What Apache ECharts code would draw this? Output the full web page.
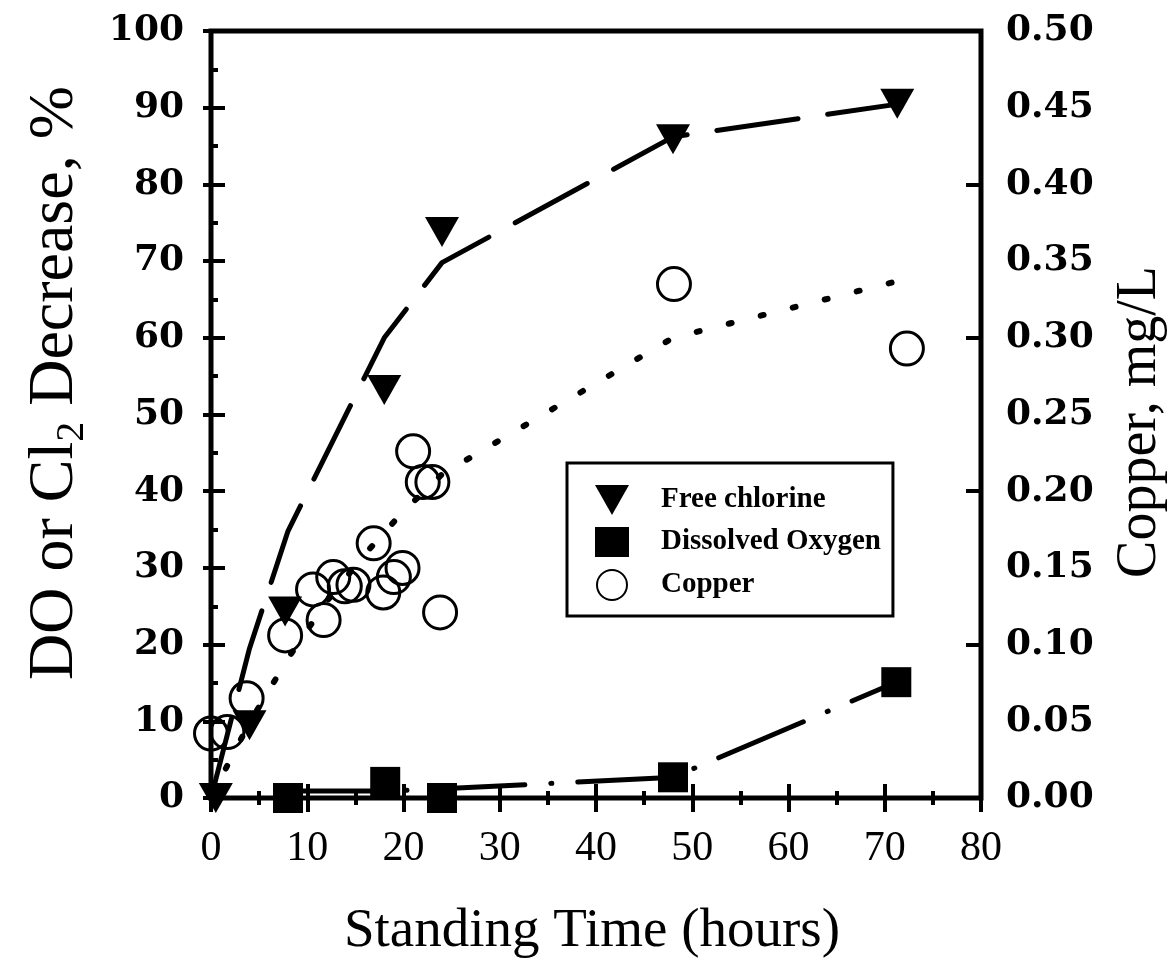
<!DOCTYPE html>
<html>
<head>
<meta charset="utf-8">
<script src="https://cdn.jsdelivr.net/npm/echarts@6/dist/echarts.min.js"></script>
<style>
  html, body { margin: 0; padding: 0; background: #fff; }
  #chart { width: 1176px; height: 966px; }
</style>
</head>
<body>
<div id="chart"></div>
<script>
// Axis ticks
const xTicks = [0, 10, 20, 30, 40, 50, 60, 70, 80];
const yLeftTicks = [0, 10, 20, 30, 40, 50, 60, 70, 80, 90, 100];
const yRightTicks = [0, 0.05, 0.10, 0.15, 0.20, 0.25, 0.30, 0.35, 0.40, 0.45, 0.50];

// Free chlorine decrease (%) and its fitted curve
const clHours = [0.5, 4, 7.7, 18, 24, 48, 71.3];
const freeChlorine = [0, 9.5, 24.3, 53.2, 73.8, 85.9, 90.5];
const clFitHours = [0, 4, 8, 18, 24, 48, 71];
const clFit = [0, 19.5, 34.8, 60.0, 69.8, 86.2, 90.4];

// Dissolved oxygen decrease (%) and its fitted curve
const doHours = [8, 18.1, 24, 48, 71.2];
const dissolvedOxygen = [0, 2.1, 0, 2.7, 15.1];
const doFitHours = [8, 18, 24, 48, 71];
const doFit = [0.9, 0.9, 1.2, 2.7, 15.0];

// Copper (mg/L) and its fitted curve
const cuHours = [0, 1.7, 3.7, 7.7, 10.6, 11.7, 12.7, 13.9, 14.8, 16.9, 17.9, 19.0, 19.9, 21.0, 22.0, 23.0, 23.8, 48.1, 72.3];
const copper = [0.042, 0.043, 0.065, 0.106, 0.136, 0.116, 0.144, 0.138, 0.139, 0.166, 0.134, 0.144, 0.150, 0.226, 0.206, 0.206, 0.121, 0.335, 0.293];
const cuFitHours = [0, 2, 4, 8, 12, 16, 20, 24, 48, 72];
const cuFit = [0, 0.025, 0.049, 0.091, 0.128, 0.159, 0.187, 0.211, 0.300, 0.338];

const zip = (xs, ys) => xs.map((x, i) => [x, ys[i]]);

const BLACK = '#000';
const tickStyle = { color: BLACK, width: 4 };
const TICK_FONT = { color: BLACK, fontFamily: 'DejaVu Serif', fontWeight: 'bold', fontSize: 36 };
const DOWN_TRIANGLE = 'path://M0,0 L34,0 L17,30 Z';

function xAxisDef(position, showLabels) {
  return {
    type: 'value',
    position: position,
    min: xTicks[0],
    max: xTicks[xTicks.length - 1],
    interval: xTicks[1] - xTicks[0],
    axisLine: { show: false },
    splitLine: { show: false },
    axisTick: { show: true, inside: true, length: 14, lineStyle: tickStyle },
    minorTick: { show: true, splitNumber: 2, length: 7, lineStyle: tickStyle },
    minorSplitLine: { show: false },
    axisLabel: {
      show: showLabels,
      margin: 30,
      color: BLACK,
      fontFamily: 'Liberation Serif',
      fontSize: 42
    }
  };
}

const option = {
  animation: false,
  backgroundColor: '#fff',
  grid: {
    left: 211, right: 195, top: 31, bottom: 168,
    show: true, borderColor: BLACK, borderWidth: 5, backgroundColor: 'transparent'
  },
  xAxis: [xAxisDef('bottom', true), xAxisDef('top', false)],
  yAxis: [
    {
      type: 'value',
      position: 'left',
      min: yLeftTicks[0],
      max: yLeftTicks[yLeftTicks.length - 1],
      interval: yLeftTicks[1] - yLeftTicks[0],
      axisLine: { show: false },
      splitLine: { show: false },
      axisTick: { show: true, inside: true, length: 14, lineStyle: tickStyle },
      minorTick: { show: true, splitNumber: 2, length: 7, lineStyle: tickStyle },
      minorSplitLine: { show: false },
      axisLabel: Object.assign({ margin: 27 }, TICK_FONT)
    },
    {
      type: 'value',
      position: 'right',
      min: yRightTicks[0],
      max: yRightTicks[yRightTicks.length - 1],
      interval: yRightTicks[1] - yRightTicks[0],
      axisLine: { show: false },
      splitLine: { show: false },
      axisTick: { show: true, inside: true, length: 8, lineStyle: tickStyle },
      axisLabel: Object.assign({ margin: 25, formatter: v => v.toFixed(2) }, TICK_FONT)
    },
    {
      // long ticks at every 0.1 mg/L on the copper side
      type: 'value',
      position: 'right',
      min: yRightTicks[0],
      max: yRightTicks[yRightTicks.length - 1],
      interval: yRightTicks[2] - yRightTicks[0],
      axisLine: { show: false },
      splitLine: { show: false },
      axisTick: { show: true, inside: true, length: 15, lineStyle: tickStyle },
      axisLabel: { show: false }
    }
  ],
  legend: {
    orient: 'vertical',
    left: 567,
    top: 463,
    padding: [22, 12, 15, 28],
    itemGap: 12,
    itemWidth: 34,
    itemHeight: 30,
    borderColor: BLACK,
    borderWidth: 3,
    backgroundColor: '#fff',
    selectedMode: false,
    textStyle: {
      color: BLACK, fontFamily: 'Liberation Serif', fontWeight: 'bold', fontSize: 29,
      padding: [0, 0, 0, 27]
    },
    data: [
      { name: 'Free chlorine', icon: DOWN_TRIANGLE },
      { name: 'Dissolved Oxygen' },
      { name: 'Copper' }
    ]
  },
  graphic: [
    {
      type: 'text',
      x: 55, y: 383,
      rotation: Math.PI / 2,
      style: {
        text: '{a|DO or Cl}{s|2}{a| Decrease, %}',
        align: 'center', verticalAlign: 'middle',
        textAlign: 'center', textVerticalAlign: 'middle',
        fill: BLACK,
        rich: {
          a: { fontFamily: 'Liberation Serif', fontSize: 64, lineHeight: 74, fill: BLACK },
          s: { fontFamily: 'Liberation Serif', fontSize: 40, lineHeight: 40, verticalAlign: 'bottom', fill: BLACK }
        }
      }
    },
    {
      type: 'text',
      x: 1140, y: 422,
      rotation: Math.PI / 2,
      style: {
        text: 'Copper, mg/L',
        align: 'center', verticalAlign: 'middle',
        textAlign: 'center', textVerticalAlign: 'middle',
        fill: BLACK,
        font: '56px "Liberation Serif"'
      }
    },
    {
      type: 'text',
      x: 592, y: 932,
      style: {
        text: 'Standing Time (hours)',
        align: 'center', verticalAlign: 'middle',
        textAlign: 'center', textVerticalAlign: 'middle',
        fill: BLACK,
        font: '55px "Liberation Serif"'
      }
    }
  ],
  series: [
    {
      name: 'Chlorine fit',
      type: 'line',
      xAxisIndex: 0, yAxisIndex: 0,
      data: zip(clFitHours, clFit),
      symbol: 'none', silent: true, clip: false, z: 2,
      lineStyle: { color: BLACK, width: 5, opacity: 1, type: [82, 30], cap: 'round', join: 'round' }
    },
    {
      name: 'Oxygen fit',
      type: 'line',
      xAxisIndex: 0, yAxisIndex: 0,
      data: zip(doFitHours, doFit),
      symbol: 'none', silent: true, clip: false, z: 2,
      lineStyle: { color: BLACK, width: 5, opacity: 1, type: [92, 26, 1, 26], cap: 'round', join: 'round' }
    },
    {
      name: 'Copper fit',
      type: 'line',
      xAxisIndex: 0, yAxisIndex: 1,
      data: zip(cuFitHours, cuFit),
      symbol: 'none', silent: true, clip: false, z: 2,
      lineStyle: { color: BLACK, width: 6, opacity: 1, type: [3, 30], cap: 'round', join: 'round' }
    },
    {
      name: 'Free chlorine',
      type: 'scatter',
      xAxisIndex: 0, yAxisIndex: 0,
      data: zip(clHours, freeChlorine),
      symbol: 'triangle', symbolRotate: 180, symbolSize: [34, 30],
      clip: false, z: 3,
      itemStyle: { color: BLACK, opacity: 1 }
    },
    {
      name: 'Dissolved Oxygen',
      type: 'scatter',
      xAxisIndex: 0, yAxisIndex: 0,
      data: zip(doHours, dissolvedOxygen),
      symbol: 'rect', symbolSize: 30,
      clip: false, z: 3,
      itemStyle: { color: BLACK, opacity: 1 }
    },
    {
      name: 'Copper',
      type: 'scatter',
      xAxisIndex: 0, yAxisIndex: 1,
      data: zip(cuHours, copper),
      symbol: 'circle', symbolSize: 33,
      clip: false, z: 3,
      itemStyle: { color: 'rgba(255,255,255,0)', borderColor: BLACK, borderWidth: 3, opacity: 1 }
    }
  ]
};

const chart = echarts.init(document.getElementById('chart'), null, { renderer: 'canvas' });
chart.setOption(option);
</script>
</body>
</html>
